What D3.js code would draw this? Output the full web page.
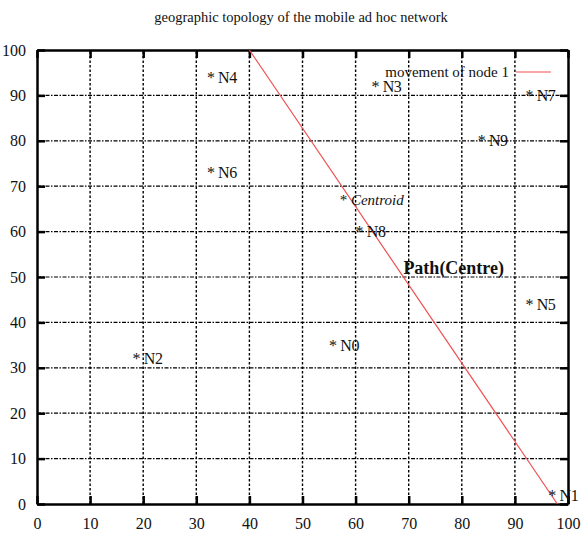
<!DOCTYPE html>
<html>
<head>
<meta charset="utf-8">
<script src="https://cdn.jsdelivr.net/npm/d3@7"></script>
<style>
  html, body { margin: 0; padding: 0; background: #fff; }
  svg { display: block; }
  text { font-family: "Liberation Serif", "DejaVu Serif", serif; fill: #111; }
</style>
</head>
<body>
<svg id="chart" width="581" height="537"></svg>
<script>
// Node positions in the 100 x 100 field
const nodeNames = ["N0", "N1", "N2", "N3", "N4", "N5", "N6", "N7", "N8", "N9"];
const nodeX = [55, 96.3, 18, 63, 32, 92, 32, 92, 60, 83];
const nodeY = [35, 2, 32, 92, 94, 44, 73, 90, 60, 80];

// Centroid of the nodes and the path label
const centroid = [57, 67];
const pathLabel = [69, 52];

// Straight-line movement of node 1
const moveX = [40, 98];
const moveY = [100, 0];

const xTicks = [0, 10, 20, 30, 40, 50, 60, 70, 80, 90, 100];
const yTicks = [0, 10, 20, 30, 40, 50, 60, 70, 80, 90, 100];

const titleText = "geographic topology of the mobile ad hoc network";
const legendText = "movement of node 1";

const svg = d3.select("#chart");
const m = { left: 37, right: 13, top: 50, bottom: 33 };
const W = 581, H = 537;

const x = d3.scaleLinear().domain([0, 100]).range([m.left, W - m.right]);
const y = d3.scaleLinear().domain([0, 100]).range([H - m.bottom, m.top]);

// Title
svg.append("text")
  .attr("x", 301).attr("y", 22)
  .attr("text-anchor", "middle")
  .style("font-size", "14.5px")
  .text(titleText);

// Grid
const grid = svg.append("g");
grid.selectAll(".vg").data(xTicks.slice(1, -1)).join("line")
  .attr("x1", d => x(d)).attr("x2", d => x(d))
  .attr("y1", y(0)).attr("y2", y(100))
  .attr("stroke", "#000").attr("stroke-width", 1.4)
  .attr("stroke-dasharray", "2.5,2");
grid.selectAll(".hg").data(yTicks.slice(1, -1)).join("line")
  .attr("x1", x(0)).attr("x2", x(100))
  .attr("y1", d => y(d)).attr("y2", d => y(d))
  .attr("stroke", "#000").attr("stroke-width", 1.2)
  .attr("stroke-dasharray", "4,1.5,1.5,1.5");

// Axes with inward ticks on all four sides
const tickLen = 8;
const axB = svg.append("g").attr("transform", `translate(0,${y(0)})`)
  .call(d3.axisBottom(x).tickValues(xTicks).tickSizeInner(-tickLen).tickSizeOuter(0).tickPadding(tickLen + 6));
const axL = svg.append("g").attr("transform", `translate(${x(0)},0)`)
  .call(d3.axisLeft(y).tickValues(yTicks).tickSizeInner(-tickLen).tickSizeOuter(0).tickPadding(tickLen + 3));
const axT = svg.append("g").attr("transform", `translate(0,${y(100)})`)
  .call(d3.axisTop(x).tickValues(xTicks).tickSizeInner(-tickLen).tickSizeOuter(0).tickFormat(""));
const axR = svg.append("g").attr("transform", `translate(${x(100)},0)`)
  .call(d3.axisRight(y).tickValues(yTicks).tickSizeInner(-tickLen).tickSizeOuter(0).tickFormat(""));

[axB, axL, axT, axR].forEach(a => {
  a.select(".domain").attr("stroke", "#000").attr("stroke-width", 2.5);
  a.selectAll(".tick line").attr("stroke", "#000").attr("stroke-width", 2.5);
  a.selectAll(".tick text")
    .style("font-family", '"Liberation Serif", serif')
    .style("font-size", "16px").attr("fill", "#111");
});

// Movement path of node 1
const line = d3.line().x(d => x(d[0])).y(d => y(d[1]));
svg.append("path")
  .datum(moveX.map((v, i) => [v, moveY[i]]))
  .attr("d", line)
  .attr("fill", "none").attr("stroke", "#f05050").attr("stroke-width", 1.2);

// Node labels
svg.selectAll(".node").data(nodeNames).join("text")
  .attr("x", (d, i) => x(nodeX[i]))
  .attr("y", (d, i) => y(nodeY[i]))
  .attr("dy", "0.35em")
  .style("font-size", "16px")
  .style("letter-spacing", "-0.4px")
  .text(d => "* " + d);

// Centroid label
const ct = svg.append("text")
  .attr("x", x(centroid[0])).attr("y", y(centroid[1]))
  .attr("dy", "0.35em")
  .style("font-size", "15px");
ct.append("tspan").text("* ");
ct.append("tspan").style("font-style", "italic").text("Centroid");

// Path label
svg.append("text")
  .attr("x", x(pathLabel[0])).attr("y", y(pathLabel[1]))
  .attr("dy", "0.35em")
  .style("font-size", "18px").style("font-weight", "bold")
  .text("Path(Centre)");

// Legend
svg.append("text")
  .attr("x", 509).attr("y", 72).attr("dy", "0.35em")
  .attr("text-anchor", "end")
  .style("font-size", "15px")
  .text(legendText);
svg.append("line")
  .attr("x1", 516).attr("x2", 551).attr("y1", 72).attr("y2", 72)
  .attr("stroke", "#f05050").attr("stroke-width", 1.2);
</script>
</body>
</html>
